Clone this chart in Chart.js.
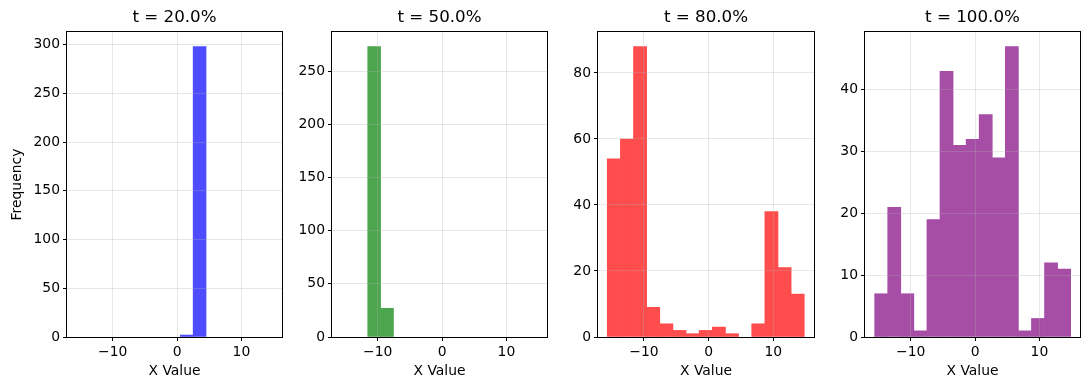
<!DOCTYPE html>
<html>
<head>
<meta charset="utf-8">
<script src="https://cdn.jsdelivr.net/npm/chart.js@4.4.1/dist/chart.umd.min.js"></script>
<style>
  html, body { margin: 0; padding: 0; background: #fff; }
  #wrap { position: relative; width: 1089px; height: 390px; overflow: hidden; }
  #wrap canvas { position: absolute; top: 0; }
</style>
</head>
<body>
<div id="wrap">
  <canvas id="c0" width="290" height="390" style="left:0px"></canvas>
  <canvas id="c1" width="265" height="390" style="left:290px"></canvas>
  <canvas id="c2" width="267" height="390" style="left:555px"></canvas>
  <canvas id="c3" width="267" height="390" style="left:822px"></canvas>
</div>
<script>
// Data
const panelTitles = ['t = 20.0%', 't = 50.0%', 't = 80.0%', 't = 100.0%'];
const binStarts = [-15.5, -15.55, -15.67, -15.6];
const binWidths = [2.0, 2.0, 2.031, 2.03];
const counts20 = [0, 0, 0, 0, 0, 0, 0, 0, 2, 298, 0, 0, 0, 0, 0];
const counts50 = [0, 0, 273, 27, 0, 0, 0, 0, 0, 0, 0, 0, 0, 0, 0];
const counts80 = [54, 60, 88, 9, 4, 2, 1, 2, 3, 1, 0, 4, 38, 21, 13];
const counts100 = [7, 21, 7, 1, 19, 43, 31, 32, 36, 29, 47, 1, 3, 12, 11];
const xTicks = [-10, 0, 10];
const yTicks20 = [0, 50, 100, 150, 200, 250, 300];
const yTicks50 = [0, 50, 100, 150, 200, 250];
const yTicks80 = [0, 20, 40, 60, 80];
const yTicks100 = [0, 10, 20, 30, 40];
const yMaxes = [312.9, 286.65, 92.4, 49.35];
const xMin = -17.1, xMax = 16.3;

const allCounts = [counts20, counts50, counts80, counts100];
const allYTicks = [yTicks20, yTicks50, yTicks80, yTicks100];
const barColors = ['rgb(77,77,255)', 'rgb(77,166,77)', 'rgb(255,77,77)', 'rgb(166,77,166)'];

// y axis width and right padding per canvas, so the plot boxes line up
const yAxisWidths = [67, 42, 43, 43];
const rightPads = [8, 8, 8, 9];

Chart.defaults.font.family = 'DejaVu Sans';
Chart.defaults.color = '#000';

const tickFont = { family: 'DejaVu Sans', size: 13.9 };
const gridColor = 'rgba(176,176,176,0.3)';

function fmt(v) {
    return v < 0 ? '\u2212' + Math.abs(v) : String(v);
}

// black box round the plot area, like matplotlib spines
const frame = {
    id: 'frame',
    afterDraw(chart) {
        const a = chart.chartArea;
        const ctx = chart.ctx;
        const l = Math.round(a.left) - 0.5, r = Math.round(a.right) + 0.5;
        const t = Math.round(a.top) - 0.5, b = Math.round(a.bottom) + 0.5;
        ctx.save();
        ctx.strokeStyle = '#000';
        ctx.lineWidth = 1;
        ctx.strokeRect(l, t, r - l, b - t);
        ctx.restore();
    }
};

function makePanel(i) {
    const counts = allCounts[i];
    const data = counts.map((c, k) => ({
        x: binStarts[i] + (k + 0.5) * binWidths[i],
        y: c === 0 ? null : c
    }));
    const yt = allYTicks[i];

    new Chart(document.getElementById('c' + i), {
        type: 'bar',
        data: {
            datasets: [{
                data: data,
                backgroundColor: barColors[i],
                borderWidth: 0,
                barPercentage: 1,
                categoryPercentage: 1
            }]
        },
        options: {
            responsive: false,
            animation: false,
            layout: { padding: { left: 0, right: rightPads[i], top: 0, bottom: 0 } },
            plugins: {
                legend: { display: false },
                tooltip: { enabled: false },
                title: {
                    display: true,
                    fullSize: false,
                    text: panelTitles[i],
                    color: '#000',
                    font: { family: 'DejaVu Sans', size: 16.7, weight: 'normal' },
                    padding: { top: 8, bottom: 4 }
                }
            },
            scales: {
                x: {
                    type: 'linear',
                    min: xMin,
                    max: xMax,
                    offset: false,
                    afterBuildTicks: s => { s.ticks = xTicks.map(v => ({ value: v })); },
                    afterFit: s => { s.height = 53; },
                    ticks: { font: tickFont, color: '#000', padding: 3, maxRotation: 0, autoSkip: false, callback: fmt },
                    grid: { offset: false, color: gridColor, lineWidth: 1, z: 1, tickColor: '#000', tickLength: 4 },
                    border: { display: false },
                    title: { display: true, text: 'X Value', color: '#000', font: tickFont, padding: { top: 0, bottom: 10 } }
                },
                y: {
                    type: 'linear',
                    min: 0,
                    max: yMaxes[i],
                    afterBuildTicks: s => { s.ticks = yt.map(v => ({ value: v })); },
                    afterFit: s => { s.width = yAxisWidths[i]; },
                    ticks: { font: tickFont, color: '#000', padding: 3, autoSkip: false, callback: fmt },
                    grid: { color: gridColor, lineWidth: 1, z: 1, tickColor: '#000', tickLength: 4 },
                    border: { display: false },
                    title: { display: i === 0, text: 'Frequency', color: '#000', font: tickFont, padding: { top: 8.7, bottom: 0 } }
                }
            }
        },
        plugins: [frame]
    });
}

for (let i = 0; i < 4; i++) makePanel(i);
</script>
</body>
</html>
